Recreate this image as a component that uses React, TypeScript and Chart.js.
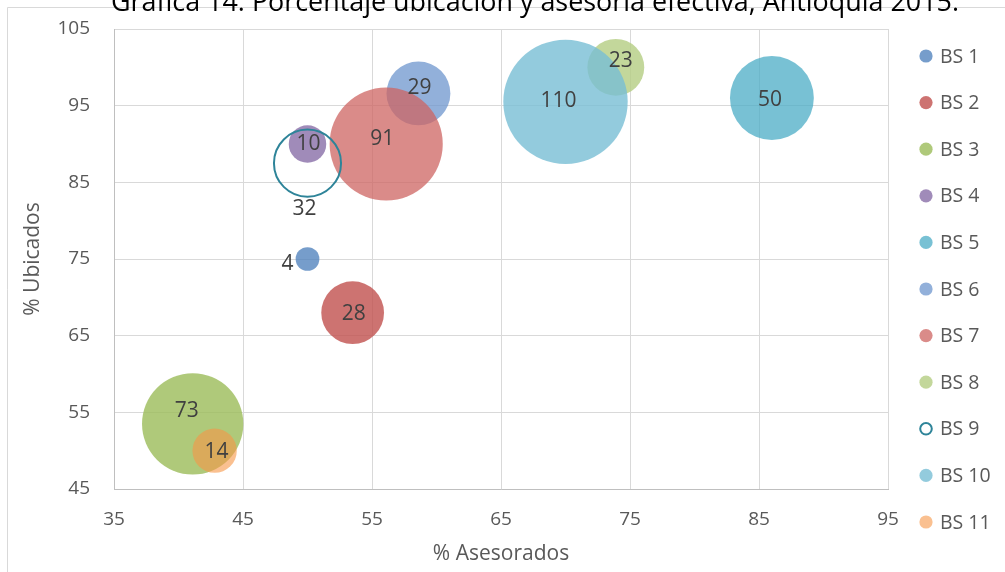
import React, { useEffect, useRef } from "react";
import { Chart, registerables } from "chart.js";

Chart.register(...registerables);

// ---- Data ----
const SERIES = ["BS 1", "BS 2", "BS 3", "BS 4", "BS 5", "BS 6", "BS 7", "BS 8", "BS 9", "BS 10", "BS 11"];
const ASESORADOS = [50, 53.5, 41.1, 50, 86, 58.6, 56.1, 73.9, 50, 70, 42.8];
const UBICADOS = [75, 68, 53.5, 90, 96, 96.6, 90, 100, 87.5, 95.5, 50];
const SIZES = [4, 28, 73, 10, 50, 29, 91, 23, 32, 110, 14];
const X_TICKS = [35, 45, 55, 65, 75, 85, 95];
const Y_TICKS = [45, 55, 65, 75, 85, 95, 105];
const TITLE = "Gráfica 14. Porcentaje ubicación y asesoría efectiva, Antioquia 2015.";
const X_TITLE = "% Asesorados";
const Y_TITLE = "% Ubicados";

// ---- Styles ----
const FONT = "'Open Sans', sans-serif";
const TEXT = "#595959";
const LABEL_TEXT = "#404040";
const FILLS = [
  "rgba(79,129,189,0.78)",
  "rgba(192,80,77,0.8)",
  "rgba(155,187,89,0.8)",
  "rgba(128,100,162,0.75)",
  "rgba(75,172,198,0.75)",
  "rgba(110,150,205,0.75)",
  "rgba(205,100,98,0.75)",
  "rgba(180,205,130,0.8)",
  "rgba(0,0,0,0)",
  "rgba(120,190,212,0.8)",
  "rgba(247,150,70,0.6)",
];
const BORDERS = ["", "", "", "", "", "", "", "", "#2E8499", "", ""];
const BUBBLE_SCALE = 5.93; // px radius per sqrt(size)
// data label nudges (px) relative to bubble centre
const LABEL_NUDGE: [number, number][] = [
  [-20, 5], [1, 1], [-6, -13], [1, 0], [-2, 2], [1, -5], [-4, -5], [5, -6], [-3, 46], [-7, -1], [2, 1],
];

const decorPlugin = {
  id: "decor",
  beforeDraw(chart: any) {
    const ctx = chart.ctx;
    ctx.save();
    ctx.fillStyle = "#ffffff";
    ctx.fillRect(0, 0, chart.width, chart.height);
    ctx.strokeStyle = "#d9d9d9";
    ctx.lineWidth = 1;
    ctx.beginPath();
    ctx.moveTo(7.5, chart.height);
    ctx.lineTo(7.5, 7.5);
    ctx.lineTo(chart.width, 7.5);
    ctx.stroke();
    ctx.restore();
  },
  afterDatasetsDraw(chart: any) {
    const ctx = chart.ctx;
    ctx.save();
    ctx.font = `21px ${FONT}`;
    ctx.fillStyle = LABEL_TEXT;
    ctx.textAlign = "center";
    ctx.textBaseline = "middle";
    chart.data.datasets.forEach((ds: any, i: number) => {
      const meta = chart.getDatasetMeta(i);
      const el = meta.data[0];
      if (!el) return;
      const [dx, dy] = LABEL_NUDGE[i];
      ctx.fillText(String(SIZES[i]), el.x + dx, el.y + dy);
    });
    ctx.restore();
  },
  afterDraw(chart: any) {
    const ctx = chart.ctx;
    ctx.save();
    // title (partially cropped at top, as in the reference)
    ctx.font = `27px ${FONT}`;
    ctx.fillStyle = "#000000";
    ctx.textAlign = "center";
    ctx.textBaseline = "alphabetic";
    ctx.fillText(TITLE, 535, 11, 848);
    // legend
    const area = chart.chartArea;
    const x0 = area.right + 38;
    const y0 = 56;
    const step = 46.6;
    ctx.font = `19.5px ${FONT}`;
    ctx.textAlign = "left";
    ctx.textBaseline = "middle";
    chart.data.datasets.forEach((ds: any, i: number) => {
      const y = y0 + i * step;
      ctx.beginPath();
      ctx.arc(x0, y, BORDERS[i] ? 5.8 : 6.6, 0, Math.PI * 2);
      if (BORDERS[i]) {
        ctx.strokeStyle = BORDERS[i];
        ctx.lineWidth = 2;
        ctx.stroke();
      } else {
        ctx.fillStyle = FILLS[i];
        ctx.fill();
      }
      ctx.fillStyle = TEXT;
      ctx.fillText(ds.label, x0 + 14, y + 1);
    });
    ctx.restore();
  },
};

export default function App() {
  const ref = useRef<HTMLCanvasElement | null>(null);

  useEffect(() => {
    if (!ref.current) return;
    Chart.defaults.font.family = FONT;
    const datasets = SERIES.map((name, i) => ({
      label: name,
      data: [{ x: ASESORADOS[i], y: UBICADOS[i], r: BUBBLE_SCALE * Math.sqrt(SIZES[i]) }],
      backgroundColor: FILLS[i],
      borderColor: BORDERS[i] || FILLS[i],
      borderWidth: BORDERS[i] ? 2 : 0,
      order: SERIES.length - i,
    }));
    const chart = new Chart(ref.current, {
      type: "bubble",
      data: { datasets },
      options: {
        responsive: false,
        animation: false,
        devicePixelRatio: 1,
        events: [],
        layout: { padding: { left: 0, top: 29, right: 117, bottom: 0 }, autoPadding: false },
        plugins: {
          legend: { display: false },
          tooltip: { enabled: false },
          title: { display: false },
        },
        scales: {
          x: {
            type: "linear",
            position: "bottom",
            min: 35,
            max: 95,
            afterFit: (s: any) => {
              s.height = 83;
            },
            afterBuildTicks: (s: any) => {
              s.ticks = X_TICKS.map((v) => ({ value: v }));
            },
            ticks: { color: TEXT, font: { size: 19, family: FONT }, padding: 0 },
            grid: { color: "#d9d9d9", lineWidth: 1, drawTicks: true, tickLength: 19, tickColor: "rgba(0,0,0,0)" },
            border: { color: "#bfbfbf", width: 1 },
            title: {
              display: true,
              text: X_TITLE,
              color: TEXT,
              font: { size: 21, family: FONT },
              padding: { top: 0, bottom: 5 },
            },
          },
          y: {
            type: "linear",
            position: "left",
            min: 45,
            max: 105,
            afterFit: (s: any) => {
              s.width = 114;
            },
            afterBuildTicks: (s: any) => {
              s.ticks = Y_TICKS.map((v) => ({ value: v }));
            },
            ticks: { color: TEXT, font: { size: 19, family: FONT }, padding: 0 },
            grid: { color: "#d9d9d9", lineWidth: 1, drawTicks: true, tickLength: 24, tickColor: "rgba(0,0,0,0)" },
            border: { color: "#bfbfbf", width: 1 },
            title: {
              display: true,
              text: Y_TITLE,
              color: TEXT,
              font: { size: 21, family: FONT },
              padding: { top: 20, bottom: 0 },
            },
          },
        },
      },
      plugins: [decorPlugin],
    } as any);
    return () => chart.destroy();
  }, []);

  return (
    <div style={{ position: "fixed", left: 0, top: 0, width: 1005, height: 572, background: "#fff" }}>
      <canvas ref={ref} width={1005} height={572} style={{ display: "block", width: 1005, height: 572 }} />
    </div>
  );
}
